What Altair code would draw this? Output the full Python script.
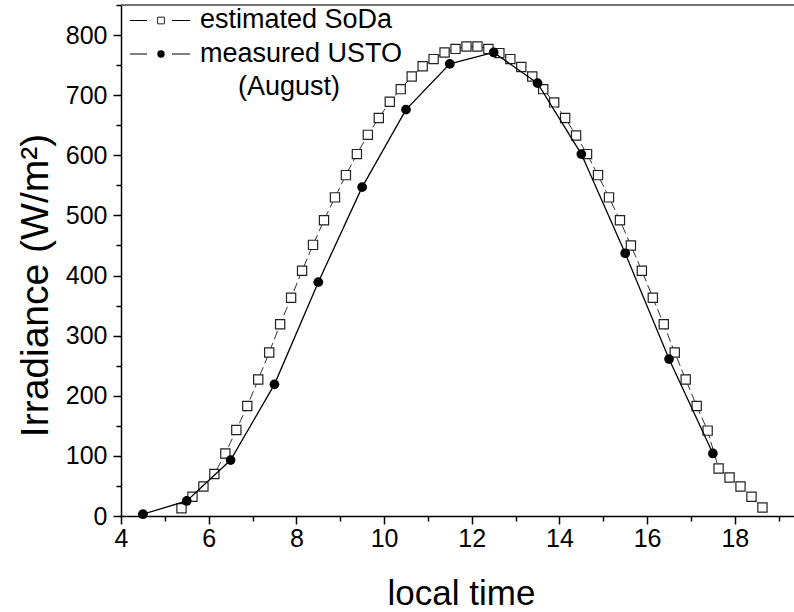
import altair as alt
import pandas as pd

# ---- data ----
meas_time = [4.5, 5.5, 6.5, 7.5, 8.5, 9.5, 10.5, 11.5, 12.5, 13.5, 14.5, 15.5, 16.5, 17.5]
meas_val = [3, 25, 93, 219, 389, 547, 676, 752, 771, 720, 602, 437, 261, 104]

est_time = [5.38, 5.63, 5.88, 6.13, 6.38, 6.63, 6.88, 7.13, 7.38, 7.63, 7.88,
            8.13, 8.38, 8.63, 8.88, 9.13, 9.38, 9.63, 9.88, 10.13, 10.38, 10.63, 10.88,
            11.13, 11.38, 11.63, 11.88, 12.13, 12.38, 12.63, 12.88, 13.13, 13.38, 13.63, 13.88,
            14.13, 14.38, 14.63, 14.88, 15.13, 15.38, 15.63, 15.88, 16.13, 16.38, 16.63, 16.88,
            17.13, 17.38, 17.63, 17.88, 18.13, 18.38, 18.63]
est_val = [13, 32, 49, 70, 104, 143, 183, 227, 272, 319, 363,
           408, 451, 492, 530, 567, 602, 634, 662, 689, 710, 731, 748,
           760, 771, 777, 781, 781, 777, 770, 760, 747, 731, 710, 688,
           662, 633, 602, 567, 530, 492, 450, 408, 363, 319, 272, 227,
           183, 142, 79, 64, 49, 32, 14]

x_major = [4, 6, 8, 10, 12, 14, 16, 18]
x_minor = [5, 7, 9, 11, 13, 15, 17, 19]
y_major = [0, 100, 200, 300, 400, 500, 600, 700, 800]
y_minor = [50, 150, 250, 350, 450, 550, 650, 750, 850]

legend_labels = ["estimated SoDa", "measured USTO", "(August)"]

FONT = "Liberation Sans"
W, H = 673, 511

est = pd.DataFrame({"t": est_time, "v": est_val})
meas = pd.DataFrame({"t": meas_time, "v": meas_val})
one = pd.DataFrame({"a": [0]})

xs = alt.Scale(domain=[4, 19.35], nice=False, zero=False)
ys = alt.Scale(domain=[0, 850], nice=False, zero=False)

x_major_axis = alt.Axis(values=x_major, orient="bottom", tickSize=8, tickWidth=1.5,
                        domainWidth=1.5, domainColor="black", tickColor="black",
                        labelFontSize=25, labelFont=FONT, labelColor="black",
                        labelPadding=2, labelFlush=False, labelOverlap=False, grid=False,
                        format="d", title="local time", titleFontSize=35, titleFont=FONT,
                        titleFontWeight="normal", titleColor="black", titleX=340, titleY=88,
                        titleAlign="center", titleBaseline="alphabetic")
x_minor_axis = alt.Axis(values=x_minor, orient="bottom", tickSize=5, tickWidth=1.5,
                        tickColor="black", domain=False, labels=False, grid=False, title="")
y_major_axis = alt.Axis(values=y_major, orient="left", tickSize=8, tickWidth=1.5,
                        domainWidth=1.5, domainColor="black", tickColor="black",
                        labelFontSize=25, labelFont=FONT, labelColor="black",
                        labelPadding=6, labelFlush=False, labelOverlap=False, grid=False,
                        format="d", title="Irradiance (W/m²)", titleFontSize=39, titleFont=FONT,
                        titleFontWeight="normal", titleColor="black", titleAngle=270,
                        titleX=-86, titleY=280, titleAlign="center", titleBaseline="middle")
y_minor_axis = alt.Axis(values=y_minor, orient="left", tickSize=5, tickWidth=1.5,
                        tickColor="black", domain=False, labels=False, grid=False, title="")

est_line = alt.Chart(est).mark_line(color="#333333", strokeWidth=1, strokeDash=[9, 4]).encode(
    x=alt.X("t:Q", scale=xs, axis=x_major_axis),
    y=alt.Y("v:Q", scale=ys, axis=y_major_axis),
)
est_pts = alt.Chart(est).mark_point(shape="square", filled=True, fill="white", stroke="#222222",
                                    strokeWidth=1.2, size=85, opacity=1).encode(
    x=alt.X("t:Q", scale=xs, axis=x_minor_axis),
    y=alt.Y("v:Q", scale=ys, axis=y_minor_axis),
)
meas_line = alt.Chart(meas).mark_line(color="black", strokeWidth=1.3, interpolate="linear").encode(
    x=alt.X("t:Q", scale=xs, axis=None),
    y=alt.Y("v:Q", scale=ys, axis=None),
)
meas_pts = alt.Chart(meas).mark_circle(color="black", size=95, opacity=1).encode(
    x=alt.X("t:Q", scale=xs, axis=None),
    y=alt.Y("v:Q", scale=ys, axis=None),
)

top_line = alt.Chart(one).mark_rule(color="#444444", strokeWidth=1.5).encode(
    x=alt.value(0), x2=alt.value(W), y=alt.value(0))

leg = []
for ry in (15.5, 49):
    leg.append(alt.Chart(one).mark_rule(color="black", strokeWidth=1).encode(
        x=alt.value(9), x2=alt.value(26), y=alt.value(ry)))
    leg.append(alt.Chart(one).mark_rule(color="black", strokeWidth=1).encode(
        x=alt.value(51), x2=alt.value(69), y=alt.value(ry)))
leg.append(alt.Chart(one).mark_point(shape="square", filled=True, fill="white", stroke="#222222",
                                     strokeWidth=1, size=45, opacity=1).encode(
    x=alt.value(40), y=alt.value(15.5)))
leg.append(alt.Chart(one).mark_circle(color="black", size=55, opacity=1).encode(
    x=alt.value(40), y=alt.value(49)))
leg.append(alt.Chart(one).mark_text(text=legend_labels[0], align="left", baseline="alphabetic",
                                    font=FONT, fontSize=27, color="black").encode(
    x=alt.value(79), y=alt.value(23)))
leg.append(alt.Chart(one).mark_text(text=legend_labels[1], align="left", baseline="alphabetic",
                                    font=FONT, fontSize=27, color="black").encode(
    x=alt.value(79), y=alt.value(57)))
leg.append(alt.Chart(one).mark_text(text=legend_labels[2], align="center", baseline="alphabetic",
                                    font=FONT, fontSize=27, color="black").encode(
    x=alt.value(168), y=alt.value(90)))

chart = alt.layer(est_line, est_pts, meas_line, meas_pts, top_line, *leg).resolve_axis(
    x="independent", y="independent"
).properties(
    width=W, height=H,
    padding={"left": 121, "top": 5, "right": 0, "bottom": 96},
    autosize=alt.AutoSizeParams(type="none"),
    background="white",
).configure_view(stroke=None)

chart.save("out.html", embed_options={"renderer": "svg", "actions": False})
